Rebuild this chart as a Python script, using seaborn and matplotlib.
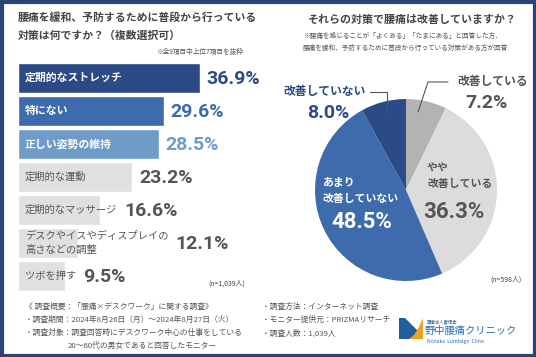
import matplotlib
matplotlib.use("Agg")
import matplotlib.pyplot as plt
import seaborn as sns
import pandas as pd
from matplotlib.patches import Rectangle, Polygon

sns.set_theme(style="white")
plt.rcParams['font.family'] = ['Noto Sans CJK JP', 'DejaVu Sans']

# データ
items = ["定期的なストレッチ", "特にない", "正しい姿勢の維持", "定期的な運動",
         "定期的なマッサージ", "デスクやイスやディスプレイの\n高さなどの調整", "ツボを押す"]
rates = [36.9, 29.6, 28.5, 23.2, 16.6, 12.1, 9.5]
bar_colors = ["#2c4a86", "#3e6bab", "#6f9bc9", "#e0e0e0", "#e0e0e0", "#e0e0e0", "#e0e0e0"]
text_colors = ["#2c4a86", "#3e6bab", "#6f9bc9", "#555555", "#555555", "#555555", "#555555"]

pie_labels = ["改善している", "やや\n改善している", "あまり\n改善していない", "改善していない"]
pie_values = [7.2, 36.3, 48.5, 8.0]
pie_colors = ["#b3b3b3", "#dcdcdc", "#3e6bab", "#2c4a86"]

W, H = 536, 357
fig = plt.figure(figsize=(W / 100, H / 100), dpi=100)
fig.patch.set_facecolor("white")

def px(x0, y0, w, h):
    return [x0 / W, 1 - (y0 + h) / H, w / W, h / H]

num_font = ["Roboto", "DejaVu Sans"]

# 左：棒グラフ
ax = fig.add_axes(px(18, 61.5, 246.5, 231))
df = pd.DataFrame({"item": items, "rate": rates})
sns.barplot(data=df, x="rate", y="item", hue="item", palette=bar_colors,
            orient="h", width=0.9, legend=False, ax=ax, saturation=1)
ax.set_xlim(0, 50)
ax.set_ylim(6.5, -0.5)
ax.axis("off")

inner = []
for i, name in enumerate(items):
    white = i < 3
    t = ax.text(1.4, i, name, ha="left", va="center", fontsize=7.8 if white else 7.4,
                color="white" if white else "#555555",
                fontweight="bold" if white else "normal", linespacing=1.45)
    inner.append(t)

fig.canvas.draw()
r = fig.canvas.get_renderer()
inv = ax.transData.inverted()
for i, (v, t) in enumerate(zip(rates, inner)):
    ext = t.get_window_extent(r)
    text_end = inv.transform((ext.x1, ext.y0))[0]
    x = max(v, text_end) + 1.4
    ax.text(x, i + 0.03, f"{v}%", ha="left", va="center", fontsize=14,
            color=text_colors[i], fontweight="bold", family=num_font)

# 右：円グラフ
pax = fig.add_axes(px(406 - 91, 190 - 91, 182, 182))
pax.pie(pie_values, colors=pie_colors, startangle=90, counterclock=False,
        radius=1, wedgeprops=dict(linewidth=0))
pax.set_xlim(-1, 1)
pax.set_ylim(-1, 1)
pax.set_aspect("equal")

# オーバーレイ（文字・枠）
ov = fig.add_axes([0, 0, 1, 1], zorder=5)
ov.set_xlim(0, W)
ov.set_ylim(H, 0)
ov.axis("off")
ov.patch.set_alpha(0)

ov.add_patch(Rectangle((1.5, 1.5), W - 3, H - 3, fill=False, ec="#2a4478", lw=3))

ov.text(18, 18, "腰痛を緩和、予防するために普段から行っている", fontsize=7.8,
        color="#444444", va="center", fontweight="bold")
ov.text(18, 36, "対策は何ですか？（複数選択可）", fontsize=7.8,
        color="#444444", va="center", fontweight="bold")
ov.text(243, 52, "※全9項目中上位7項目を抜粋", fontsize=4.8, color="#555555",
        ha="right", va="center")
ov.text(245, 284, "(n=1,039人)", fontsize=5, color="#444444", ha="right", va="center")

ov.text(412, 20, "それらの対策で腰痛は改善していますか？", fontsize=7.9,
        color="#444444", ha="center", va="center", fontweight="bold")
ov.text(303, 36, "※腰痛を感じることが「よくある」「たまにある」と回答した方、", fontsize=4.8,
        color="#555555", va="center")
ov.text(303, 48, "腰痛を緩和、予防するために普段から行っている対策がある方が回答", fontsize=4.8,
        color="#555555", va="center")
ov.text(522, 280, "(n=598人)", fontsize=5, color="#444444", ha="right", va="center")

# 円グラフのラベル
ov.plot([418, 428, 448], [112, 82, 82], color="#555555", lw=0.8)
ov.text(493, 82, pie_labels[0], fontsize=8.5, color="#555555", ha="center",
        va="center", fontweight="bold")
ov.text(487, 103, f"{pie_values[0]}%", fontsize=14, color="#555555", ha="center",
        va="center", fontweight="bold", family=num_font)

ov.plot([370, 387, 387], [92, 92, 113], color="#555555", lw=0.8)
ov.text(366, 92, pie_labels[3], fontsize=8.5, color="#2c4a86", ha="right",
        va="center", fontweight="bold")
ov.text(328, 113, f"{pie_values[3]}%", fontsize=14, color="#2c4a86", ha="center",
        va="center", fontweight="bold", family=num_font)

ov.text(427, 176, pie_labels[1], fontsize=7.8, color="#555555", ha="left",
        va="center", fontweight="bold", linespacing=1.6)
ov.text(454, 212, f"{pie_values[1]}%", fontsize=16, color="#555555", ha="center",
        va="center", fontweight="bold", family=num_font)

ov.text(322, 191, pie_labels[2], fontsize=7.8, color="white", ha="left",
        va="center", fontweight="bold", linespacing=1.6)
ov.text(362, 222, f"{pie_values[2]}%", fontsize=16, color="white", ha="center",
        va="center", fontweight="bold", family=num_font)

# 調査概要
gray = "#555555"
fs = 5.6
ov.text(25, 307, "《 調査概要：「腰痛×デスクワーク」に関する調査》", fontsize=fs, color=gray, va="center")
ov.text(25, 320, "・調査期間：2024年8月26日（月）～2024年8月27日（火）", fontsize=fs, color=gray, va="center")
ov.text(25, 333, "・調査対象：調査回答時にデスクワーク中心の仕事をしている", fontsize=fs, color=gray, va="center")
ov.text(68, 346, "20～60代の男女であると回答したモニター", fontsize=fs, color=gray, va="center")
ov.text(262, 307, "・調査方法：インターネット調査", fontsize=fs, color=gray, va="center")
ov.text(262, 320, "・モニター提供元：PRIZMAリサーチ", fontsize=fs, color=gray, va="center")
ov.text(262, 333, "・調査人数：1,039人", fontsize=fs, color=gray, va="center")

# ロゴ
ov.add_patch(Polygon([[399, 318], [405, 318], [418, 331], [418, 339], [399, 339]],
                     closed=True, fc="#1f5f9e", ec="none"))
ov.add_patch(Polygon([[409, 339], [423, 339], [423, 318], [419, 327], [414, 335]],
                     closed=True, fc="#f0a020", ec="none"))
ov.text(427, 322, "医療法人慶信会", fontsize=3.2, color="#2a5d9a", va="center")
ov.text(425, 331, "野中腰痛クリニック", fontsize=7.4, color="#2a6db5", va="center")
ov.text(427, 342, "Nonaka  Lumbago  Clinic", fontsize=3.6, color="#2a6db5", va="center")

fig.savefig("out.png", dpi=100)
